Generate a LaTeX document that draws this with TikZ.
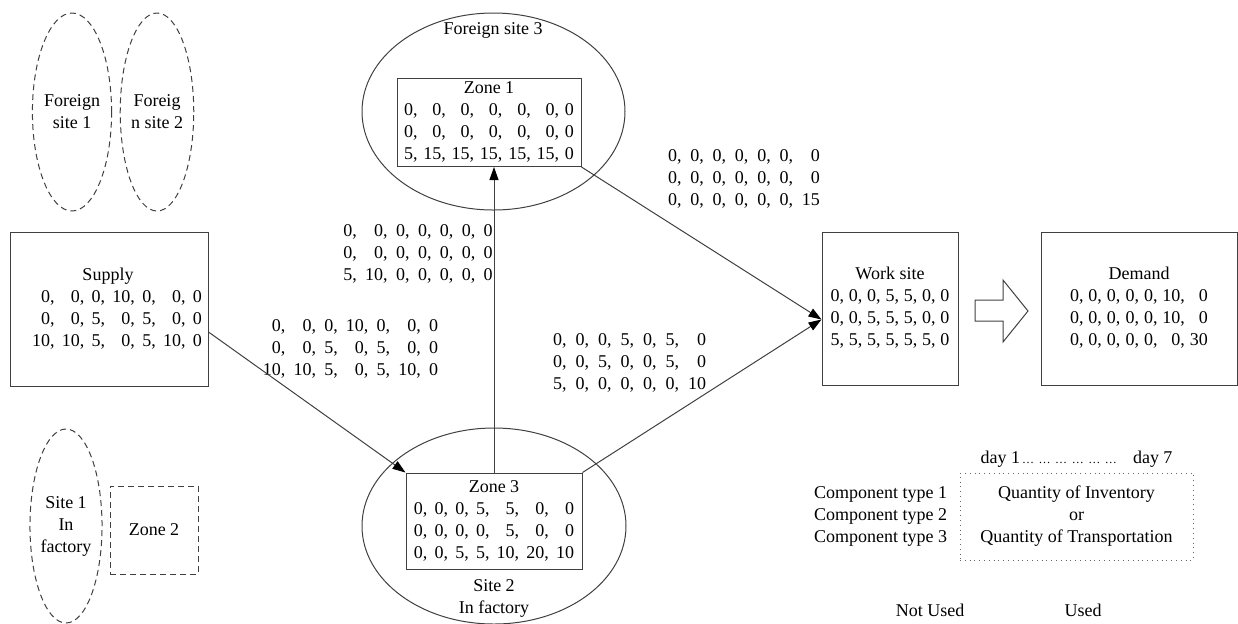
\documentclass[tikz,border=0pt]{standalone}
\usepackage{fontspec}
\setmainfont{Liberation Serif}
\newfontfamily\lserif{Liberation Serif}
\usetikzlibrary{shapes.geometric,arrows.meta,calc}
\newcommand\qmat[2]{{\setlength\tabcolsep{#1}\begin{tabular}{@{}rrrrrrr@{}}#2\end{tabular}}}
\newcommand\ttl[1]{\multicolumn{7}{@{}c@{}}{#1}}
\newcommand\smdots{{\fontsize{6}{6}\selectfont …}}
\begin{document}
\begin{tikzpicture}[x=0.5pt,y=-0.5pt,
  font=\lserif\fontsize{9}{11}\selectfont,
  line/.style={draw=black!75, line width=0.5pt},
  box/.style={line, rectangle, inner sep=0pt},
  ell/.style={line, ellipse, inner sep=0pt, align=center},
  dsh/.style={dash pattern=on 3pt off 2pt},
  lbl/.style={inner sep=0pt, align=center},
  arr/.style={line, -{Triangle[length=6.5pt,width=4.5pt,color=black]}}]
\useasboundingbox (0,0) rectangle (1238,623);

% ellipses
\node[ell, dsh, minimum width=38pt, minimum height=99pt] (fs1) at (72,112) {Foreign\\site 1};
\node[ell, dsh, minimum width=36pt, minimum height=99pt] (fs2) at (157,112) {Foreig\\n site 2};
\node[ell, minimum width=131.5pt, minimum height=98.5pt] (fs3) at (493.5,111.5) {};
\node[lbl] (fs3lbl) at (493,30) {Foreign site 3};
\node[ell, minimum width=132pt, minimum height=98pt] (s2) at (494,526) {};
\node[lbl] (s2lbl) at (494,598.5) {Site 2\\In factory};
\node[ell, dsh, minimum width=33pt, minimum height=97pt] (s1) at (66,526) {Site 1\\In\\factory};
\node[box, dsh, minimum width=44pt, minimum height=44pt] (zone2) at (154,530) {Zone 2};

% boxes
\node[box, minimum width=99pt, minimum height=77pt] (supply) at (109,309)
  {\hspace*{8pt}\qmat{1.83pt}{\ttl{Supply\hspace*{9pt}}\\0,&0,&0,&10,&0,&0,&0\\0,&0,&5,&0,&5,&0,&0\\10,&10,&5,&0,&5,&10,&0}};
\node[box, minimum width=92pt, minimum height=43.5pt] (zone1) at (489,122.5)
  {\qmat{1.45pt}{\ttl{Zone 1}\\0,&0,&0,&0,&0,&0,&0\\0,&0,&0,&0,&0,&0,&0\\5,&15,&15,&15,&15,&15,&0}};
\node[box, minimum width=88pt, minimum height=48pt] (zone3) at (494,521)
  {\qmat{1.8pt}{\ttl{Zone 3}\\0,&0,&0,&5,&5,&0,&0\\0,&0,&0,&0,&5,&0,&0\\0,&0,&5,&5,&10,&20,&10}};
\node[box, minimum width=68pt, minimum height=76.5pt] (work) at (890,308.5)
  {\qmat{1.2pt}{\ttl{Work site}\\0,&0,&0,&5,&5,&0,&0\\0,&0,&5,&5,&5,&0,&0\\5,&5,&5,&5,&5,&5,&0}};
\node[box, minimum width=98pt, minimum height=76.5pt] (demand) at (1139,308.5)
  {\qmat{1.25pt}{\ttl{Demand}\\0,&0,&0,&0,&0,&10,&0\\0,&0,&0,&0,&0,&10,&0\\0,&0,&0,&0,&0,&0,&30}};

% flow labels
\node[lbl] (q1) at (350.5,349) {\qmat{2.05pt}{0,&0,&0,&10,&0,&0,&0\\0,&0,&5,&0,&5,&0,&0\\10,&10,&5,&0,&5,&10,&0}};
\node[lbl] (q2) at (418,254) {\qmat{2.1pt}{0,&0,&0,&0,&0,&0,&0\\0,&0,&0,&0,&0,&0,&0\\5,&10,&0,&0,&0,&0,&0}};
\node[lbl] (q3) at (744,179.5) {\qmat{2.2pt}{0,&0,&0,&0,&0,&0,&0\\0,&0,&0,&0,&0,&0,&0\\0,&0,&0,&0,&0,&0,&15}};
\node[lbl] (q4) at (629.5,363) {\qmat{2.25pt}{0,&0,&0,&5,&0,&5,&0\\0,&0,&5,&0,&0,&5,&0\\5,&0,&0,&0,&0,&0,&10}};

% connectors
\draw[arr] ($(supply.east)+(0,23)$) -- (zone3.north west);
\draw[arr] (zone3.north) -- (zone3.north |- zone1.south);
\draw[arr] (zone3.north east) -- ($(work.west)+(0,11)$);
\draw[arr] (zone1.south east) -- ($(work.west)+(0,11)$);

% block arrow
\draw[line] (975,300) -- (1003,300) -- (1003,280) -- (1028,311) -- (1003,342) -- (1003,321) -- (975,321) -- cycle;

% legend
\node[lbl] (days) at (1076.5,459) {day 1\hspace{1pt}\smdots\hspace{2.3pt}\smdots\hspace{2.3pt}\smdots\hspace{2.3pt}\smdots\hspace{2.3pt}\smdots\hspace{2.3pt}\smdots\hspace{8pt}day 7};
\node[lbl, align=right] (comp) at (880.5,516) {Component type 1\\Component type 2\\Component type 3};
\node[draw=black!60, dotted, inner sep=0pt, minimum width=116.5pt, minimum height=43.5pt, align=center] (qty) at (1076.5,516.5) {Quantity of Inventory\\or\\Quantity of Transportation};
\node[lbl] (notused) at (930,610) {Not Used};
\node[lbl] (used) at (1083,610) {Used};
\end{tikzpicture}
\end{document}
